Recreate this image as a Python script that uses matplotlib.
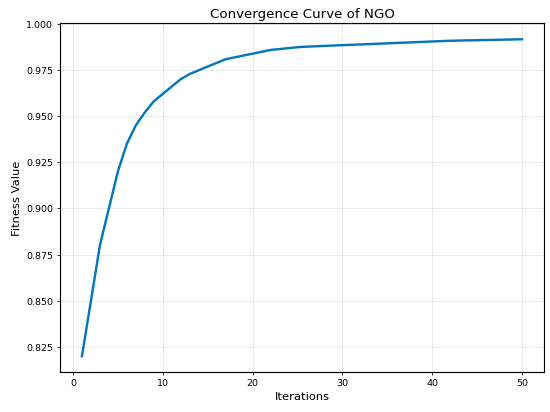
import matplotlib
matplotlib.use("Agg")
import matplotlib.pyplot as plt

# iterations and best fitness
iterations = list(range(1, 51))
fitness = [
    0.8200, 0.8500, 0.8800, 0.9000, 0.9200, 0.9350, 0.9450, 0.9520, 0.9580, 0.9620,
    0.9660, 0.9700, 0.9728, 0.9748, 0.9768, 0.9788, 0.9808, 0.9818, 0.9828, 0.9838,
    0.9848, 0.9858, 0.9863, 0.9868, 0.9873, 0.9876, 0.9878, 0.9880, 0.9882, 0.9884,
    0.9886, 0.9888, 0.9890, 0.9892, 0.9894, 0.9896, 0.9898, 0.9900, 0.9902, 0.9904,
    0.9906, 0.9908, 0.9909, 0.9910, 0.9911, 0.9912, 0.9913, 0.9914, 0.9915, 0.9916,
]

fig, ax = plt.subplots(figsize=(8, 6), dpi=68.75)
ax.plot(iterations, fitness, color='#0077BB', linewidth=2.5)

ax.set_title('Convergence Curve of NGO', fontsize=14)
ax.set_xlabel('Iterations', fontsize=12)
ax.set_ylabel('Fitness Value', fontsize=12)
ax.grid(True, alpha=0.3)
for s in ax.spines.values():
    s.set_linewidth(1.2)

plt.subplots_adjust(left=0.109, right=0.989, top=0.942, bottom=0.097)
plt.savefig('out.png')
